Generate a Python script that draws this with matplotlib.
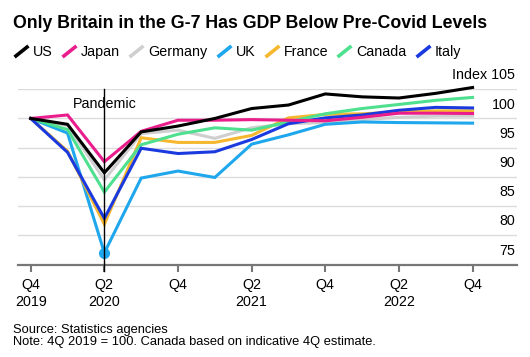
import matplotlib
matplotlib.use("Agg")
import matplotlib.pyplot as plt
from matplotlib.lines import Line2D
import numpy as np

plt.rcParams['font.family'] = ['Liberation Sans', 'DejaVu Sans']

# quarters Q4 2019 .. Q4 2022, index 4Q 2019 = 100
quarters = np.arange(13)
x_tick_pos = [0, 2, 4, 6, 8, 10, 12]
x_tick_labels = ["Q4\n2019", "Q2\n2020", "Q4", "Q2\n2021", "Q4", "Q2\n2022", "Q4"]
y_ticks = [75, 80, 85, 90, 95, 100, 105]
y_tick_labels = ["75", "80", "85", "90", "95", "100", "Index 105"]

us      = [100, 99.0, 90.7, 97.7, 98.7, 100.0, 101.7, 102.3, 104.2, 103.7, 103.5, 104.3, 105.3]
japan   = [100, 100.6, 92.6, 97.8, 99.7, 99.7, 99.8, 99.7, 99.6, 100.2, 100.9, 100.9, 100.85]
germany = [100, 98.8, 89.5, 97.4, 98.0, 96.6, 98.4, 99.1, 99.3, 99.8, 100.2, 100.4, 100.4]
uk      = [100, 97.5, 77.0, 89.8, 91.0, 89.9, 95.6, 97.2, 99.0, 99.4, 99.3, 99.25, 99.2]
france  = [100, 94.4, 81.9, 96.7, 95.9, 95.9, 97.1, 100.1, 100.7, 100.8, 101.1, 101.3, 101.3]
canada  = [100, 98.1, 87.4, 95.5, 97.3, 98.4, 98.0, 99.4, 100.8, 101.7, 102.4, 103.1, 103.6]
italy   = [100, 94.2, 82.9, 94.9, 94.0, 94.3, 96.4, 99.1, 100.1, 100.6, 101.4, 101.9, 101.8]

names = ["US", "Japan", "Germany", "UK", "France", "Canada", "Italy"]
colors = {"US": "#000000", "Japan": "#e91e8c", "Germany": "#cfcfcf", "UK": "#1ea7ec",
          "France": "#f5b82e", "Canada": "#4ee08e", "Italy": "#1a3ae0"}
series = {"US": us, "Japan": japan, "Germany": germany, "UK": uk,
          "France": france, "Canada": canada, "Italy": italy}
draw_order = ["Germany", "UK", "France", "Canada", "Italy", "Japan", "US"]

fig = plt.figure(figsize=(5.3, 3.57), dpi=100)
ax = fig.add_axes([0.034, 0.259, 0.941, 0.491])

for v in y_ticks:
    ax.axhline(v, color="#dcdcdc", lw=1, zorder=0)

for n in draw_order:
    ax.plot(quarters, series[n], color=colors[n], lw=2.2, clip_on=False, zorder=3,
            solid_joinstyle="miter")

# UK trough dot
ax.plot(quarters[2], uk[2], "o", color=colors["UK"], ms=7, zorder=4, clip_on=False)

# pandemic marker
ax.axvline(2, ymin=-0.035, ymax=1, color="black", lw=1, clip_on=False, zorder=5)
ax.text(2, 102.4, "Pandemic", ha="center", va="center", fontsize=10.3)

ax.set_xlim(-0.345, 13.2)
ax.set_ylim(75, 105)
ax.set_yticks([])
ax.set_xticks(x_tick_pos)
ax.set_xticklabels(x_tick_labels, fontsize=10.3)
ax.tick_params(axis="x", length=5, width=1.5, color="#777777", pad=5)
for s in ["top", "left", "right"]:
    ax.spines[s].set_visible(False)
ax.spines["bottom"].set_color("#777777")
ax.spines["bottom"].set_linewidth(1.6)
ax.spines["bottom"].set_zorder(2)

for v, lab in zip(y_ticks, y_tick_labels):
    ax.annotate(lab, xy=(1, v), xycoords=("axes fraction", "data"), xytext=(-1, 10),
                textcoords="offset points", ha="right", va="center", fontsize=10.3)

fig.text(0.025, 1 - 23.3 / 357, "Only Britain in the G-7 Has GDP Below Pre-Covid Levels",
         ha="left", va="center", fontsize=12.8, fontweight="bold")

handles = [Line2D([], [], color=colors[n], linestyle="none", marker=[(-1, -0.8), (1, 0.8)],
                  markersize=10, markeredgewidth=2.6, label=n) for n in names]
fig.legend(handles=handles, loc="center left", bbox_to_anchor=(0.0264, 1 - 51.7 / 357),
           ncol=7, frameon=False, fontsize=10.3, handlelength=1.0, handletextpad=0.35,
           columnspacing=0.62, borderpad=0, borderaxespad=0)

fig.text(0.025, 1 - 330 / 357, "Source: Statistics agencies", ha="left", va="center", fontsize=9.3)
fig.text(0.025, 1 - 341.7 / 357, "Note: 4Q 2019 = 100. Canada based on indicative 4Q estimate.",
         ha="left", va="center", fontsize=9.3)

fig.savefig("out.png", dpi=100)
